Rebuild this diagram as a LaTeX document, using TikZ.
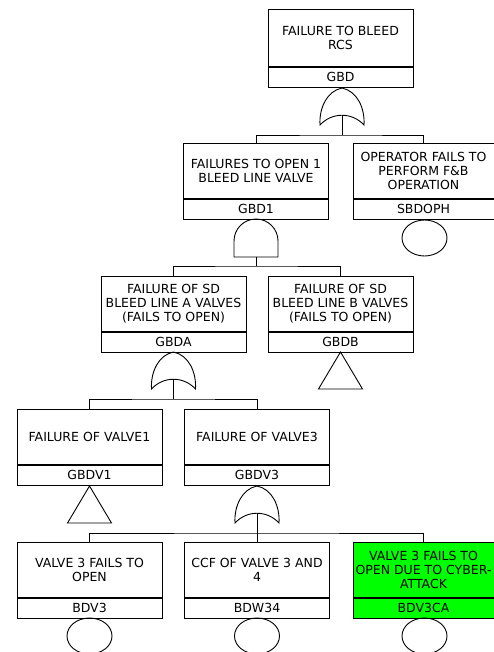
\documentclass[tikz,border=0pt]{standalone}
\usepackage{fontspec}
\setmainfont{DejaVu Sans}
\usetikzlibrary{shapes.geometric}
\definecolor{hotgreen}{RGB}{0,255,0}
\newcommand\evfont{\fontsize{12.5}{14}\selectfont}
\begin{document}
\begin{tikzpicture}[x=1pt,y=-1pt,line width=0.9pt,
  evt/.style={draw,fill=white,minimum width=145pt,minimum height=55pt,inner sep=0pt,align=center,anchor=north,font=\evfont},
  eid/.style={draw,fill=white,minimum width=145pt,minimum height=20pt,inner sep=0pt,anchor=north,font=\evfont},
  hot/.style={fill=hotgreen},
  basicev/.style={draw,ellipse,minimum width=45pt,minimum height=36pt,inner sep=0pt},
  pics/orgate/.style={code={
    \draw (0,0) .. controls (-15,3) and (-23,20) .. (-22,37)
          .. controls (-10,24) and (10,24) .. (22,37)
          .. controls (23,20) and (15,3) .. (0,0) -- cycle;
    \coordinate (-out) at (0,27.3);
  }},
  pics/andgate/.style={code={
    \draw (-22,38) -- (-22,22) .. controls (-22,9.85) and (-12.15,0) .. (0,0)
          .. controls (12.15,0) and (22,9.85) .. (22,22) -- (22,38) -- cycle;
    \coordinate (-out) at (0,38);
  }},
  pics/transfer/.style={code={
    \draw (0,0) -- (-22,37) -- (22,37) -- cycle;
  }}
]
\clip (0,0) rectangle (494,652);

% level 1
\node[evt,minimum height=57pt] (gbd) at (340.5,9) {FAILURE TO BLEED\\RCS};
\node[eid] (gbdid) at (gbd.south) {GBD};
\pic (g0) at (342,88) {orgate};
\coordinate (b0) at (342,135);
\draw (g0-out) -- (b0);

% level 2
\node[evt] (gbd1) at (256,143) {FAILURES TO OPEN 1\\BLEED LINE VALVE};
\node[eid] (gbd1id) at (gbd1.south) {GBD1};
\node[evt,minimum width=141pt] (sbd) at (423.5,143) {OPERATOR FAILS TO\\PERFORM F\&B\\OPERATION};
\node[eid,minimum width=141pt] (sbdid) at (sbd.south) {SBDOPH};
\draw (gbd1.north) |- (b0) -| (sbd.north);
\node[basicev] (sbdc) at (424.5,238) {};
\pic (g1) at (256,219) {andgate};
\coordinate (b1) at (256,266);
\draw (g1-out) -- (b1);

% level 3
\node[evt] (gbda) at (173.5,276) {FAILURE OF SD\\BLEED LINE A VALVES\\(FAILS TO OPEN)};
\node[eid] (gbdaid) at (gbda.south) {GBDA};
\node[evt] (gbdb) at (340.5,276) {FAILURE OF SD\\BLEED LINE B VALVES\\(FAILS TO OPEN)};
\node[eid] (gbdbid) at (gbdb.south) {GBDB};
\draw (gbda.north) |- (b1) -| (gbdb.north);
\pic (t1) at (340.5,352) {transfer};
\pic (g2) at (173.5,352) {orgate};
\coordinate (b2) at (173.5,399);
\draw (g2-out) -- (b2);

% level 4
\node[evt] (gbdv1) at (89.5,409) {FAILURE OF VALVE1};
\node[eid] (gbdv1id) at (gbdv1.south) {GBDV1};
\node[evt] (gbdv3) at (257,409) {FAILURE OF VALVE3};
\node[eid] (gbdv3id) at (gbdv3.south) {GBDV3};
\draw (gbdv1.north) |- (b2) -| (gbdv3.north);
\pic (t2) at (89.5,486) {transfer};
\pic (g3) at (257,486) {orgate};
\coordinate (b3) at (257,533);
\draw (g3-out) -- (b3);

% level 5
\node[evt] (bdv3) at (89.5,542) {VALVE 3 FAILS TO\\OPEN};
\node[eid] (bdv3id) at (bdv3.south) {BDV3};
\node[evt] (bdw34) at (257,542) {CCF OF VALVE 3 AND\\4};
\node[eid] (bdw34id) at (bdw34.south) {BDW34};
\node[evt,hot,minimum width=141pt] (bdv3ca) at (423.5,542) {VALVE 3 FAILS TO\\OPEN DUE TO CYBER-\\ATTACK};
\node[eid,hot,minimum width=141pt] (bdv3caid) at (bdv3ca.south) {BDV3CA};
\draw (bdv3.north) |- (b3) -| (bdv3ca.north);
\draw (b3) -- (bdw34.north);
\node[basicev] (c1) at (89.5,636) {};
\node[basicev] (c2) at (257,636) {};
\node[basicev] (c3) at (424.5,636) {};
\end{tikzpicture}
\end{document}
